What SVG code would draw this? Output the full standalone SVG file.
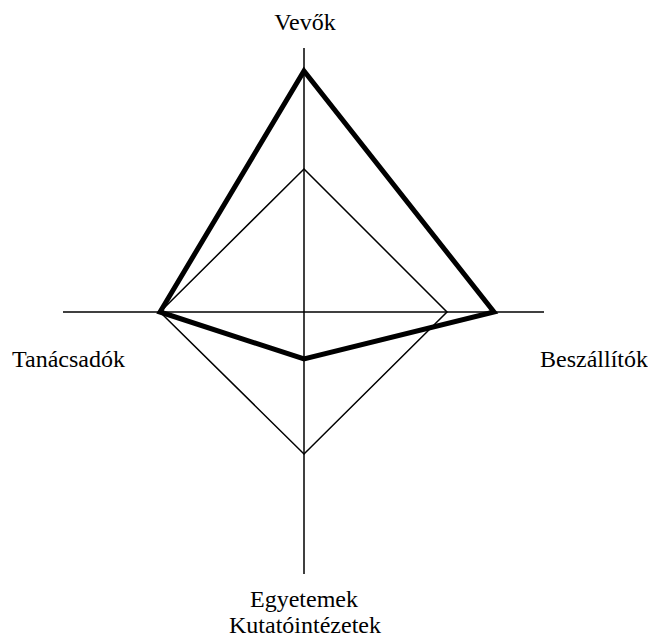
<svg xmlns="http://www.w3.org/2000/svg" width="648" height="637" viewBox="0 0 648 637">
  <style>
    .lbl { font-size: 24px; fill: #000; }
    .axis { stroke: #000; stroke-width: 1.5; fill: none; }
    .thin { stroke: #000; stroke-width: 1.5; fill: none; stroke-linejoin: miter; }
    .thick { stroke: #000; stroke-width: 5; fill: none; stroke-linejoin: miter; }
  </style>
  <rect width="648" height="637" fill="#fff"/>
  <g id="connectors">
    <line class="axis" x1="63" y1="312" x2="544" y2="312"/>
    <line class="axis" x1="304" y1="48" x2="304" y2="574"/>
    <polygon class="thin" points="304,169 447,312 304,454 160,312"/>
    <polygon class="thick" points="304,71 494,312 304,359 160,312"/>
  </g>
  <g font-family="Liberation Serif, Times New Roman, serif">
    <g id="vevok"><text class="lbl" x="305" y="30" text-anchor="middle">Vevők</text></g>
    <g id="tanacsadok"><text class="lbl" x="12" y="367">Tanácsadók</text></g>
    <g id="beszallitok"><text class="lbl" x="540" y="367">Beszállítók</text></g>
    <g id="egyetemek">
      <text class="lbl" x="304" y="607" text-anchor="middle">Egyetemek</text>
      <text class="lbl" x="305" y="633" text-anchor="middle">Kutatóintézetek</text>
    </g>
  </g>
</svg>
